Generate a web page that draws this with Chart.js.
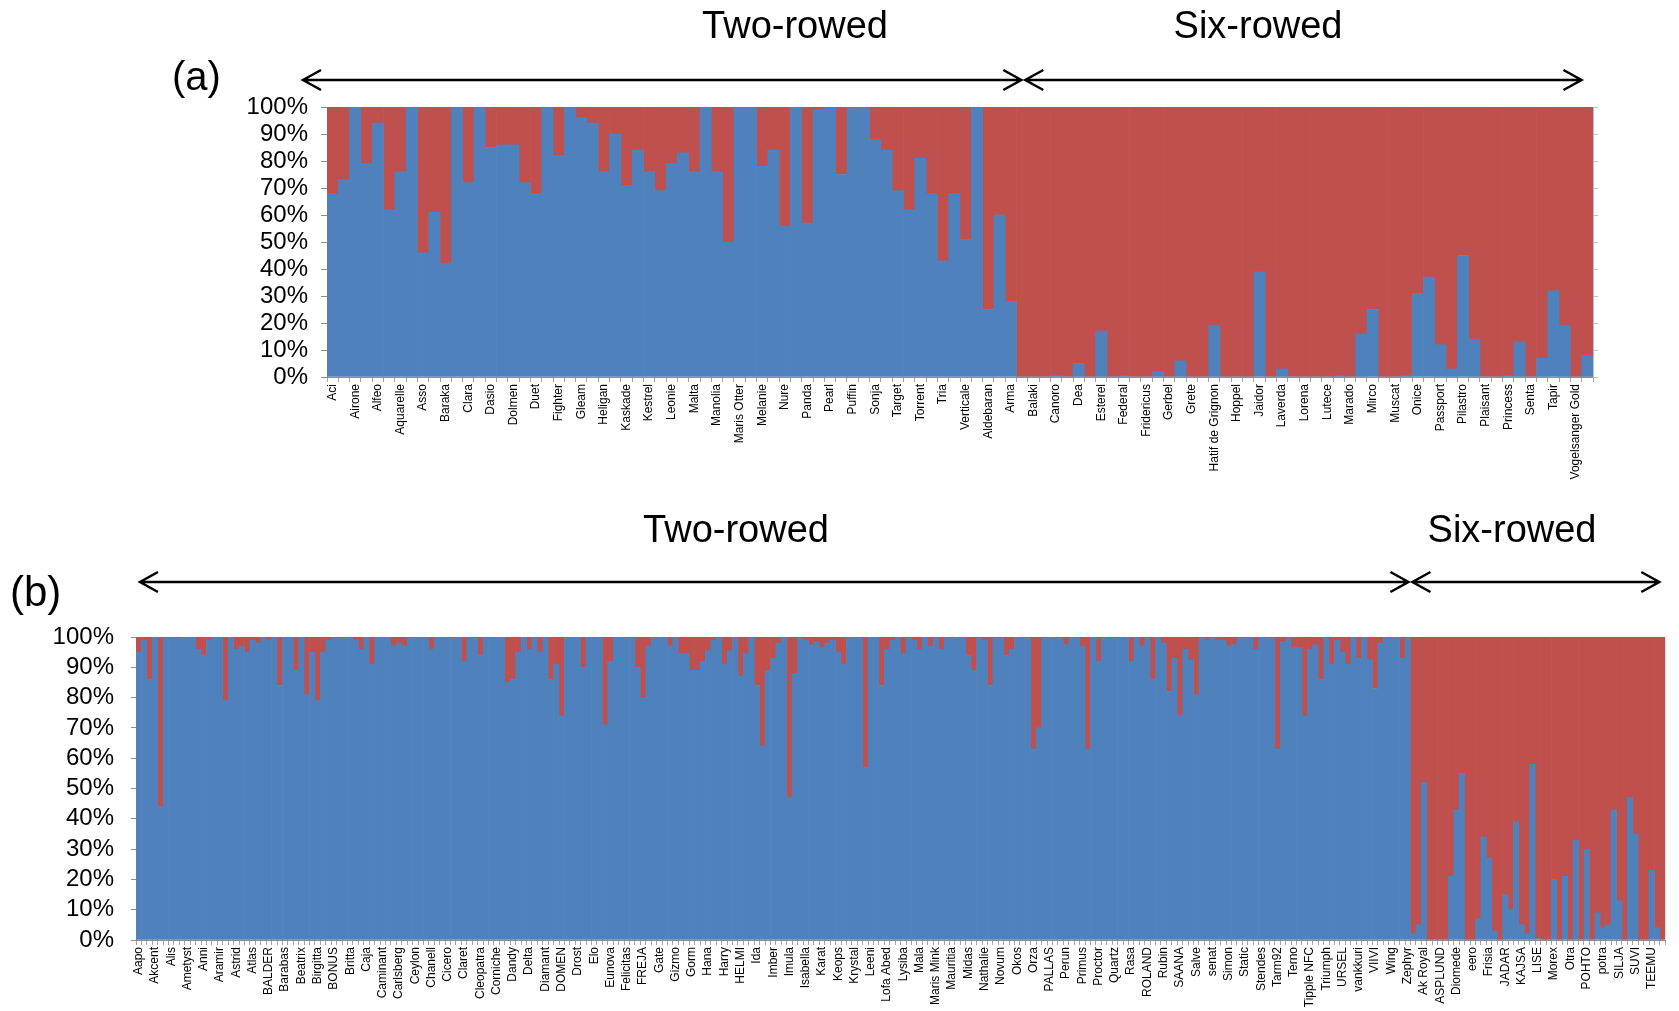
<!DOCTYPE html>
<html>
<head>
<meta charset="utf-8">
<script src="https://cdn.jsdelivr.net/npm/chart.js@4.4.1/dist/chart.umd.min.js"></script>
<style>
  html, body { margin: 0; padding: 0; background: #fff; overflow: hidden; }
  body { width: 1679px; height: 1011px; position: relative; }
  canvas { position: absolute; left: 0; }
  #chartA { top: 0; }
  #chartB { top: 470px; }
</style>
</head>
<body>
<canvas id="chartA" width="1679" height="500"></canvas>
<canvas id="chartB" width="1679" height="541"></canvas>
<script>
const FONT = "'Liberation Sans', Arial, sans-serif"
const BLUE = '#4F81BD'
const RED = '#C0504D'
const AXIS = '#8C8C8C'

// (a) cultivar names, one label every second bar
const namesA = ['Aci', 'Airone', 'Alfeo', 'Aquarelle', 'Asso', 'Baraka', 'Clara', 'Dasio', 'Dolmen', 'Duet',
  'Fighter', 'Gleam', 'Heligan', 'Kaskade', 'Kestrel', 'Leonie', 'Malta', 'Manolia', 'Maris Otter', 'Melanie',
  'Nure', 'Panda', 'Pearl', 'Puffin', 'Sonja', 'Target', 'Torrent', 'Tria', 'Verticale', 'Aldebaran',
  'Arma', 'Balaki', 'Canoro', 'Dea', 'Esterel', 'Federal', 'Fridericus', 'Gerbel', 'Grete', 'Hatif de Grignon',
  'Hoppel', 'Jaidor', 'Laverda', 'Lorena', 'Lutece', 'Marado', 'Mirco', 'Muscat', 'Onice', 'Passport',
  'Pilastro', 'Plaisant', 'Princess', 'Senta', 'Tapir', 'Vogelsanger Gold']

// (a) share of the blue cluster per accession, %
const blueA = [
  68, 73, 100, 79, 94, 62, 76, 100, 46, 61,
  42, 100, 72, 100, 85, 86, 86, 72, 68, 100,
  82, 100, 96, 94, 76, 90, 71, 84, 76, 69,
  79, 83, 76, 100, 76, 50, 100, 100, 78, 84,
  56, 100, 57, 99, 99.5, 75, 100, 100, 88, 84,
  69, 62, 81, 68, 43, 68, 51, 100, 25, 60,
  28, 0, 0, 0, 0.5, 0, 5, 0, 17, 0,
  0.5, 0, 0, 2, 0, 6, 0, 0, 19, 0,
  0, 0, 39, 0, 3, 0, 0, 0, 0, 0.5,
  0, 16, 25, 0, 0, 0.5, 31, 37, 12, 3,
  45, 14, 0, 0, 0.5, 13, 0, 7, 32, 19,
  0, 8
]

// (b) cultivar names, one label every third bar
const namesB = ['Aapo', 'Akcent', 'Alis', 'Ametyst', 'Anni', 'Aramir', 'Astrid', 'Atlas', 'BALDER', 'Barabas',
  'Beatrix', 'Birgitta', 'BONUS', 'Britta', 'Caja', 'Caminant', 'Carlsberg', 'Ceylon', 'Chanell', 'Cicero',
  'Claret', 'Cleopatra', 'Corniche', 'Dandy', 'Delta', 'Diamant', 'DOMEN', 'Drost', 'Elo', 'Eunova',
  'Felicitas', 'FREJA', 'Gate', 'Gizmo', 'Gorm', 'Hana', 'Harry', 'HELMI', 'Ida', 'Imber',
  'Imula', 'Isabella', 'Karat', 'Keops', 'Krystal', 'Leeni', 'Lofa Abed', 'Lysiba', 'Mala', 'Maris Mink',
  'Mauritia', 'Midas', 'Nathalie', 'Novum', 'Okos', 'Orza', 'PALLAS', 'Perun', 'Primus', 'Proctor',
  'Quartz', 'Rasa', 'ROLAND', 'Rubin', 'SAANA', 'Salve', 'senat', 'Simon', 'Static', 'Stendes',
  'Tarm92', 'Terno', 'Tipple NFC', 'Triumph', 'URSEL', 'vankkuri', 'VIIVI', 'Wing', 'Zephyr', 'Ak Royal',
  'ASPLUND', 'Diomede', 'eero', 'Frisia', 'JADAR', 'KAJSA', 'LISE', 'Morex', 'Otra', 'POHTO',
  'potra', 'SILJA', 'SUVI', 'TEEMU']

// (b) share of the blue cluster per accession, %
const blueB = [
  95, 99, 86, 100, 44, 100, 100, 100, 99.5, 100,
  100, 96, 94, 99, 100, 100, 79, 100, 96, 97,
  95, 99, 98, 100, 99, 100, 84, 100, 100, 89,
  100, 81, 95, 79, 95, 99, 100, 99.5, 99.5, 100,
  99, 96, 100, 91, 100, 100, 100, 97, 98, 97,
  99.5, 99.5, 100, 100, 96, 100, 100, 100, 99.5, 100,
  92, 100, 99.5, 94, 100, 100, 100, 100, 85, 86,
  95, 100, 96, 100, 95, 100, 86, 91, 74, 99.5,
  100, 100, 90, 100, 100, 100, 71, 92, 100, 100,
  99.5, 100, 90, 80, 97, 99.5, 100, 100, 97, 100,
  94.5, 94.5, 89, 89, 92, 95.5, 99, 100, 91, 95.5,
  100, 87, 94.5, 100, 84, 64, 89, 93, 98, 100,
  47, 88, 99.5, 99, 97.5, 98.5, 96.5, 98, 99, 95,
  91, 100, 100, 99.5, 57, 100, 100, 84, 96, 99,
  100, 94.5, 99.5, 99, 96, 100, 97, 100, 96, 100,
  99.5, 100, 100, 94, 89, 99.5, 99, 84, 99.5, 99.5,
  94, 96, 100, 100, 99.5, 63, 70, 99.5, 100, 100,
  99.5, 97.5, 99.5, 100, 97, 63, 100, 92, 99.5, 100,
  99.5, 100, 100, 92, 100, 97, 99.5, 86, 100, 98,
  82, 93, 74, 96, 92.5, 81, 99.5, 99, 99.5, 99,
  99, 97, 97.5, 99.5, 99.5, 100, 96, 100, 99.5, 99.5,
  63, 98.5, 100, 96.5, 96.5, 74, 96, 97.5, 86, 100,
  91, 99, 95, 91, 100, 93, 100, 92.5, 83, 98,
  100, 100, 100, 93, 99.5, 2, 5, 52, 0, 0,
  0, 0, 21, 43, 55, 0, 0, 7, 34, 27,
  3, 0, 15, 10, 39, 5, 2, 58, 0.5, 0,
  0, 20, 0, 21, 0, 33, 0, 30, 0, 9,
  4, 5, 43, 13, 0, 47, 35, 0, 0, 23,
  4, 0
]

const groupTitles = ['Two-rowed', 'Six-rowed']

function spacedLabels(names, every, count) {
  const out = new Array(count).fill('')
  names.forEach((n, i) => { out[i * every] = n })
  return out
}

function drawArrow(ctx, x1, x2, y) {
  ctx.beginPath()
  ctx.moveTo(x1, y)
  ctx.lineTo(x2, y)
  ctx.moveTo(x1 + 18, y - 10)
  ctx.lineTo(x1, y)
  ctx.lineTo(x1 + 18, y + 10)
  ctx.moveTo(x2 - 18, y - 10)
  ctx.lineTo(x2, y)
  ctx.lineTo(x2 - 18, y + 10)
  ctx.stroke()
}

// panel letter, group headings and the double-headed arrows above each panel
const panelNotes = {
  id: 'panelNotes',
  afterDraw(chart, args, o) {
    const { ctx, chartArea, scales: { x } } = chart
    ctx.save()
    ctx.fillStyle = '#000'
    ctx.strokeStyle = '#000'
    ctx.textBaseline = 'alphabetic'
    ctx.font = `${o.letterSize}px ${FONT}`
    ctx.textAlign = 'left'
    ctx.fillText(o.letter, o.letterX, o.letterY)

    ctx.font = `38px ${FONT}`
    ctx.textAlign = 'center'
    groupTitles.forEach((t, i) => ctx.fillText(t, o.titleX[i], o.titleY))

    const join = x.getPixelForValue(o.split)
    ctx.lineWidth = 2.5
    drawArrow(ctx, chartArea.left + o.startOffset, join - 2, o.arrowY)
    drawArrow(ctx, join + 2, chartArea.right - o.endOffset, o.arrowY)
    ctx.restore()
  }
}

function makeChart(id, blue, labels, opts) {
  const scales = {
    x: {
      stacked: true,
      grid: { offset: true, drawOnChartArea: false, tickLength: 5, color: '#A6A6A6' },
      border: { color: AXIS },
      ticks: { autoSkip: false, maxRotation: 90, minRotation: 90, padding: 2, color: '#000', font: { size: 12, family: FONT } },
      afterFit: s => { s.height = opts.xHeight }
    },
    y: {
      stacked: true,
      min: 0,
      max: 100,
      grid: { drawOnChartArea: false, tickLength: opts.yTick, color: AXIS },
      border: { color: AXIS },
      ticks: { stepSize: 10, autoSkip: false, padding: opts.yPad, color: '#000', font: { size: 24, family: FONT }, callback: v => v + '%' },
      afterFit: s => { s.width = opts.yWidth }
    }
  }
  if (opts.rightAxis) {
    scales.y2 = {
      position: 'right',
      min: 0,
      max: 100,
      grid: { drawOnChartArea: false, tickLength: 5, color: '#BFBFBF' },
      border: { color: '#BFBFBF' },
      ticks: { stepSize: 10, autoSkip: false, callback: () => '' },
      afterFit: s => { s.width = opts.rightAxis }
    }
  }

  return new Chart(document.getElementById(id), {
    type: 'bar',
    data: {
      labels: labels,
      datasets: [
        { data: blue, backgroundColor: BLUE, yAxisID: 'y' },
        { data: blue.map(v => 100 - v), backgroundColor: RED, yAxisID: 'y' }
      ]
    },
    options: {
      responsive: false,
      maintainAspectRatio: false,
      animation: false,
      events: [],
      barPercentage: 1,
      categoryPercentage: 1,
      borderWidth: 0,
      layout: { padding: { top: opts.top, left: 0, right: opts.rightPad, bottom: 0 } },
      plugins: {
        legend: { display: false },
        tooltip: { enabled: false },
        panelNotes: opts.notes
      },
      scales: scales
    },
    plugins: [panelNotes]
  })
}

makeChart('chartA', blueA, spacedLabels(namesA, 2, blueA.length), {
  top: 107, rightPad: 0, rightAxis: 86, xHeight: 123, yWidth: 327, yTick: 6, yPad: 13,
  notes: {
    letter: '(a)', letterSize: 40, letterX: 172, letterY: 90,
    titleX: [795, 1258], titleY: 38,
    arrowY: 80, split: 61.1, startOffset: -24, endOffset: 11.5
  }
})

makeChart('chartB', blueB, spacedLabels(namesB, 3, blueB.length), {
  top: 167, rightPad: 0, rightAxis: 0, xHeight: 71, yWidth: 136, yTick: 5, yPad: 17,
  notes: {
    letter: '(b)', letterSize: 42, letterX: 10, letterY: 136,
    titleX: [736, 1512], titleY: 72,
    arrowY: 112, split: 234.5, startOffset: 4, endOffset: 6
  }
})
</script>
</body>
</html>
